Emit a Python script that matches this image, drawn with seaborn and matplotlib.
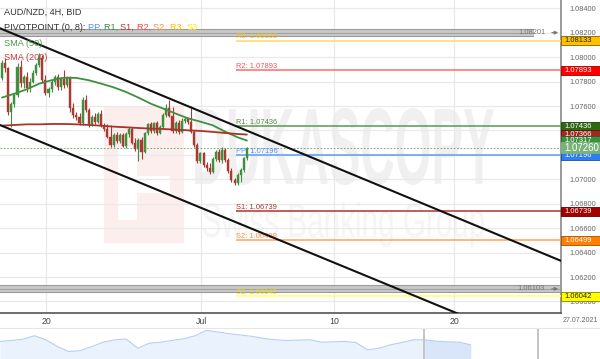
import numpy as np
import pandas as pd
import matplotlib
matplotlib.use("Agg")
import matplotlib.pyplot as plt
import seaborn as sns
import matplotlib.patheffects as pe
from matplotlib.patches import Rectangle, PathPatch
from matplotlib.textpath import TextPath
from matplotlib.font_manager import FontProperties
from matplotlib.transforms import Affine2D, blended_transform_factory

# ---------------- data ----------------
open_ = [1.07826, 1.07949, 1.07908, 1.07553, 1.07616, 1.07690, 1.07922, 1.07786, 1.07840, 1.07745,
         1.07799, 1.07867, 1.07936, 1.07990, 1.07813, 1.07704, 1.07736, 1.07799, 1.07835, 1.07753,
         1.07818, 1.07772, 1.07826, 1.07581, 1.07526, 1.07513, 1.07458, 1.07649, 1.07567, 1.07452,
         1.07513, 1.07472, 1.07534, 1.07436, 1.07409, 1.07349, 1.07280, 1.07362, 1.07316, 1.07362,
         1.07272, 1.07371, 1.07409, 1.07300, 1.07245, 1.07321, 1.07226, 1.07376, 1.07452, 1.07398,
         1.07458, 1.07381, 1.07431, 1.07526, 1.07581, 1.07518, 1.07398, 1.07463, 1.07387, 1.07480,
         1.07496, 1.07472, 1.07390, 1.07280, 1.07152, 1.07212, 1.07117, 1.07089, 1.07062, 1.07163,
         1.07226, 1.07158, 1.07240, 1.07158, 1.07070, 1.06994, 1.06967, 1.07035, 1.07076, 1.07171]
high = [1.07977, 1.07990, 1.07922, 1.07635, 1.07704, 1.07949, 1.07977, 1.07854, 1.07881, 1.07826,
        1.07895, 1.07949, 1.08031, 1.08018, 1.07854, 1.07758, 1.07813, 1.07854, 1.07862, 1.07840,
        1.07895, 1.07846, 1.07846, 1.07622, 1.07553, 1.07540, 1.07676, 1.07690, 1.07581, 1.07526,
        1.07540, 1.07553, 1.07567, 1.07458, 1.07452, 1.07444, 1.07376, 1.07390, 1.07376, 1.07381,
        1.07390, 1.07431, 1.07431, 1.07335, 1.07335, 1.07349, 1.07390, 1.07463, 1.07472, 1.07472,
        1.07480, 1.07444, 1.07540, 1.07616, 1.07649, 1.07594, 1.07480, 1.07485, 1.07499, 1.07513,
        1.07513, 1.07600, 1.07403, 1.07300, 1.07226, 1.07226, 1.07144, 1.07130, 1.07185, 1.07240,
        1.07245, 1.07267, 1.07253, 1.07171, 1.07089, 1.07008, 1.07048, 1.07089, 1.07185, 1.07267]
low = [1.07813, 1.07881, 1.07526, 1.07431, 1.07594, 1.07676, 1.07758, 1.07745, 1.07717, 1.07717,
       1.07786, 1.07854, 1.07922, 1.07786, 1.07690, 1.07676, 1.07717, 1.07772, 1.07731, 1.07731,
       1.07745, 1.07753, 1.07553, 1.07499, 1.07485, 1.07444, 1.07444, 1.07553, 1.07431, 1.07436,
       1.07452, 1.07458, 1.07425, 1.07398, 1.07335, 1.07267, 1.07261, 1.07300, 1.07294, 1.07261,
       1.07253, 1.07349, 1.07289, 1.07234, 1.07152, 1.07163, 1.07212, 1.07362, 1.07381, 1.07381,
       1.07362, 1.07371, 1.07417, 1.07513, 1.07507, 1.07381, 1.07381, 1.07371, 1.07376, 1.07463,
       1.07452, 1.07376, 1.07267, 1.07136, 1.07130, 1.07103, 1.07070, 1.07043, 1.07048, 1.07152,
       1.07144, 1.07136, 1.07144, 1.07054, 1.06980, 1.06950, 1.06950, 1.06980, 1.07062, 1.07158]
close = [1.07949, 1.07908, 1.07553, 1.07616, 1.07690, 1.07922, 1.07786, 1.07840, 1.07745, 1.07799,
         1.07867, 1.07936, 1.07990, 1.07813, 1.07704, 1.07736, 1.07799, 1.07835, 1.07753, 1.07818,
         1.07772, 1.07826, 1.07581, 1.07526, 1.07513, 1.07458, 1.07649, 1.07567, 1.07452, 1.07513,
         1.07472, 1.07534, 1.07436, 1.07409, 1.07349, 1.07280, 1.07362, 1.07316, 1.07362, 1.07272,
         1.07371, 1.07409, 1.07300, 1.07245, 1.07321, 1.07226, 1.07376, 1.07452, 1.07398, 1.07458,
         1.07381, 1.07431, 1.07526, 1.07581, 1.07518, 1.07398, 1.07463, 1.07387, 1.07480, 1.07496,
         1.07472, 1.07390, 1.07280, 1.07152, 1.07212, 1.07117, 1.07089, 1.07062, 1.07163, 1.07226,
         1.07158, 1.07240, 1.07158, 1.07070, 1.06994, 1.06967, 1.07035, 1.07076, 1.07171, 1.07260]

sma_x = [0, 4, 8, 12, 16, 20, 24, 28, 32, 36, 40, 44, 48, 52, 56, 60, 64, 68, 72, 76, 79]
sma50 = [1.07669, 1.07701, 1.07737, 1.07783, 1.07811, 1.07832, 1.07830, 1.07811, 1.07783, 1.07753,
         1.07715, 1.07669, 1.07619, 1.07579, 1.07538, 1.07499, 1.07472, 1.07442, 1.07390, 1.07344, 1.07317]
sma200 = [1.07439, 1.07445, 1.07450, 1.07450, 1.07453, 1.07453, 1.07450, 1.07445, 1.07439, 1.07431,
          1.07426, 1.07420, 1.07415, 1.07412, 1.07407, 1.07401, 1.07396, 1.07388, 1.07379, 1.07371, 1.07366]

channel_x = [-1, 181]
channel_upper = [1.08240, 1.06325]
channel_lower = [1.07448, 1.05545]

pivot_names = ["R3", "R2", "R1", "PP", "S1", "S2", "S3"]
pivot_values = [1.08133, 1.07893, 1.07436, 1.07196, 1.06739, 1.06499, 1.06042]
pivot_start = 75.5

band_values = [1.08201, 1.06103]
current_price = 1.07260

date_ticks = [14.2, 64.2, 107.1, 145.8]
date_labels = ["20", "Jul", "10", "20"]
y_ticks = [1.060, 1.062, 1.064, 1.066, 1.068, 1.070, 1.072, 1.074, 1.076, 1.078, 1.080, 1.082, 1.084]

nav_values = [1.0825, 1.0840, 1.0860, 1.0910, 1.0850, 1.0750, 1.0675, 1.0690, 1.0750, 1.0815,
              1.0850, 1.0860, 1.0725, 1.0800, 1.0815, 1.0840, 1.0865, 1.0910, 1.0990, 1.0965,
              1.0940, 1.0920, 1.0900, 1.0870, 1.0850, 1.0840, 1.0845, 1.0850, 1.0815, 1.0820,
              1.0825, 1.0810, 1.0700, 1.0725, 1.0775, 1.0810, 1.0850, 1.0850, 1.0830, 1.0820,
              1.0815, 1.0775]
nav_ticks = [2, 5.9, 9.7, 13.6, 17.3, 21.3, 25.3, 29, 33, 38.3, 42.3, 44.3, 46.1]

# ---------------- colors ----------------
GREEN = "#3f8f3f"
RED = "#a83a32"
pivot_line_colors = ["#ffd966", "#ff6868", "#5a9a4a", "#5b9bf5", "#b23030", "#ffa060", "#ffff66"]
pivot_text_colors = ["#f0c000", "#ff5050", "#4c8a3c", "#4d90fe", "#b03030", "#ff8c40", "#e8d800"]

# ---------------- figure ----------------
sns.set_theme(style="white")
plt.rcParams["font.family"] = ["Liberation Sans", "DejaVu Sans"]

W, H = 600, 359
fig = plt.figure(figsize=(6.0, 3.59), dpi=100)
fig.patch.set_facecolor("white")


def fbox(x0, y0, x1, y1):
    return [x0 / W, 1 - y1 / H, (x1 - x0) / W, (y1 - y0) / H]


ax = fig.add_axes(fbox(0, 0, 561, 312.7))
ax.set_facecolor("none")
YMIN, YMAX = 1.059078, 1.084680
XMIN, XMAX = -0.645, 180.3
ax.set_xlim(XMIN, XMAX)
ax.set_ylim(YMIN, YMAX)
px_per_unit = 312.7 / (YMAX - YMIN)

# watermark (behind)
def fit_text(txt, x0, y0, x1, y1, color, weight="bold"):
    tp = TextPath((0, 0), txt, size=10, prop=FontProperties(family="Liberation Sans", weight=weight))
    bb = tp.get_extents()
    tr = (Affine2D().translate(-bb.x0, -bb.y0)
          .scale((x1 - x0) / bb.width, (y1 - y0) / bb.height)
          .translate(x0, H - y1).scale(1 / W, 1 / H) + fig.transFigure)
    fig.add_artist(PathPatch(tp, transform=tr, fc=color, ec="none", zorder=-1))


def fig_rect(x0, y0, x1, y1, color):
    fig.add_artist(Rectangle(((x0) / W, 1 - y1 / H), (x1 - x0) / W, (y1 - y0) / H,
                             transform=fig.transFigure, fc=color, ec="none", zorder=-1))


fig_rect(104, 107, 184, 243, "#fdeeee")
fig_rect(118, 147, 137, 220, "white")
fig_rect(137, 176, 170, 193, "white")
fit_text("DUKASCOPY", 195, 108, 494, 185, "#f0f0f0")
fit_text("Swiss Banking Group", 203, 202, 484, 247, "#f5f5f5", weight="normal")

# grid
ax.set_yticks(y_ticks)
ax.set_yticklabels([f"{v:.5f}" for v in y_ticks])
ax.set_xticks(date_ticks)
ax.set_xticklabels(date_labels)
ax.grid(True, color="#e9e9e9", lw=0.9)
ax.set_axisbelow(True)
ax.yaxis.tick_right()
ax.tick_params(axis="y", length=0, pad=6, labelsize=5.3, labelcolor="#666666")
ax.tick_params(axis="x", length=0, pad=3, labelsize=6.3, labelcolor="#444444")
for s in ["top", "left"]:
    ax.spines[s].set_visible(False)
ax.spines["right"].set_color("#999999")
ax.spines["right"].set_linewidth(1.4)
ax.spines["bottom"].set_color("#555555")
ax.spines["bottom"].set_linewidth(1.2)

# grey bands
bt = blended_transform_factory(ax.transAxes, ax.transData)
for val, xend, tx in [(band_values[0], 534 / 561, 532 / 561), (band_values[1], 1.0, 531 / 561)]:
    ax.axhline(val, xmin=0, xmax=xend, color="#c6c6c6", lw=4.6, solid_capstyle="butt", zorder=2,
               path_effects=[pe.Stroke(linewidth=5.8, foreground="#8f8f8f"), pe.Normal()])
    ax.axhline(val, xmin=0, xmax=xend, color="#9a9a9a", lw=0.6, zorder=2.1)
    ax.text(tx, val, f"{val:.5f}", transform=bt, ha="center", va="center", fontsize=5.4,
            color="#777777", zorder=2.2)
    ax.annotate("", xy=(1.0, val), xytext=(549 / 561, val), xycoords=bt, textcoords=bt,
                arrowprops=dict(arrowstyle="-|>", color="#777777", lw=0.8, mutation_scale=5),
                zorder=2.2)

# current price dotted line
ax.axhline(current_price, color="#5aa05a", lw=0.6, ls=(0, (2, 2)), zorder=2.5)

# channel lines
sns.lineplot(x=channel_x, y=channel_upper, ax=ax, color="#111111", lw=1.5, zorder=6)
sns.lineplot(x=channel_x, y=channel_lower, ax=ax, color="#111111", lw=1.5, zorder=6)

# candles
df = pd.DataFrame({"i": np.arange(len(close)), "o": open_, "h": high, "l": low, "c": close})
up = df["c"] >= df["o"]
cols = np.where(up, GREEN, RED)
ax.vlines(df["i"], df["l"], df["h"], colors=cols, lw=0.8, zorder=3)
body = (df["c"] - df["o"]).abs().clip(lower=0.00003)
ax.bar(df["i"], body, bottom=np.minimum(df["o"], df["c"]), width=0.66, color=cols,
       edgecolor=cols, lw=0.3, zorder=4)

# SMA lines
sns.lineplot(x=sma_x, y=sma50, ax=ax, color="#3f8f3f", lw=1.3, zorder=5)
sns.lineplot(x=sma_x, y=sma200, ax=ax, color="#a8342a", lw=1.3, zorder=5)

# pivot lines
for name, v, lc, tc in zip(pivot_names, pivot_values, pivot_line_colors, pivot_text_colors):
    ax.hlines(v, pivot_start, XMAX + 1, color=lc, lw=1.1, zorder=2.6)
    ax.annotate(f"{name}: {v:.5f}", xy=(pivot_start, v), xytext=(0, 0.3), textcoords="offset points",
                fontsize=5.4, color=tc, va="bottom", ha="left", zorder=2.7)

# price boxes on the right
def price_box(v, txt, fc, ec, tc, fs=5.5, hpx=9.0, z=10):
    hh = hpx / 2 / px_per_unit
    ax.add_patch(Rectangle((1.0, v - hh), 39 / 561, 2 * hh, transform=bt, fc=fc, ec=ec, lw=0.6,
                           clip_on=False, zorder=z))
    ax.text(1.0 + 3 / 561, v, txt, transform=bt, ha="left", va="center", fontsize=fs, color=tc,
            clip_on=False, zorder=z + 0.1)

price_box(pivot_values[0], "1.08133", "#ffc000", "#806000", "#222222")
price_box(pivot_values[1], "1.07893", "#ff0000", "#a00000", "white")
price_box(pivot_values[2], "1.07436", "#2d6a12", "#1a4008", "white")
price_box(sma200[-1], "1.07366", "#a0281e", "#601010", "white")
price_box(sma50[-1], "1.07317", "#3f8f3f", "#2a602a", "white")
price_box(pivot_values[3], "1.07196", "#2d7ef0", "#1a50a0", "white")
price_box(pivot_values[4], "1.06739", "#a50000", "#600000", "white")
price_box(pivot_values[5], "1.06499", "#ff7f00", "#a05000", "white")
price_box(pivot_values[6], "1.06042", "#ffff00", "#808000", "#222222")
price_box(current_price, "1.07260", "#79b27b", "#79b27b", "white", fs=6.9, hpx=11.5, z=12)

# legend texts
def axy(py):
    return 1 - py / 312.7

ax.text(3.8 / 561, axy(12), "AUD/NZD, 4H, BID", transform=ax.transAxes, fontsize=6.6,
        color="#333333", va="center", zorder=8)
t = ax.text(3.8 / 561, axy(27), "PIVOTPOINT (0, 8): ", transform=ax.transAxes, fontsize=6.6,
            color="#333333", va="center", zorder=8)
for k, (name, col) in enumerate(zip(["PP", "R1", "S1", "R2", "S2", "R3", "S3"],
                                    ["#4d90fe", "#3c8a3c", "#c03030", "#ff4040", "#ff8c40", "#ffc000", "#ffe600"])):
    label = name if k == 6 else name + ", "
    t = ax.annotate(label, xy=(1, 0), xycoords=t, va="bottom", ha="left", fontsize=6.6, color=col, zorder=8)
ax.text(3.8 / 561, axy(43), "SMA (50)", transform=ax.transAxes, fontsize=6.6, color="#4c9a4c",
        va="center", zorder=8)
ax.text(3.8 / 561, axy(58), "SMA (200)", transform=ax.transAxes, fontsize=6.6, color="#c04040",
        va="center", zorder=8)

fig.text(580 / W, 1 - 320.7 / H, "27.07.2021", ha="center", va="center", fontsize=5.0, color="#666666")

# navigator
nav = fig.add_axes(fbox(0, 328, 600, 359))
nav.set_facecolor("white")
idx = np.arange(len(nav_values))
NB = 1.0565
nav.set_xlim(0, 52.26)
nav.set_ylim(NB, 1.1025)
nav.fill_between(idx, nav_values, NB, color="#eaf2fd", lw=0)
sel = idx >= 37
nav.fill_between(idx[sel], np.array(nav_values)[sel], NB, color="#d9e6fa", lw=0)
sns.lineplot(x=idx, y=nav_values, ax=nav, color="#b6cff2", lw=0.8)
nav.axvline(36.9, color="#c4c4c4", lw=1.4)
nav.axvline(46.9, color="#c4c4c4", lw=1.4)
nav.set_xticks(nav_ticks)
nav.set_yticks([])
nav.tick_params(axis="x", direction="in", length=5, width=0.8, color="#dddddd", labelbottom=False, pad=0)
for s in ["left", "right", "bottom"]:
    nav.spines[s].set_visible(False)
nav.spines["top"].set_color("#e6e6e6")
nav.spines["top"].set_linewidth(0.8)
nav.set_xlabel("")
nav.set_ylabel("")
ax.set_xlabel("")
ax.set_ylabel("")

fig.savefig("out.png", dpi=100, facecolor="white")
